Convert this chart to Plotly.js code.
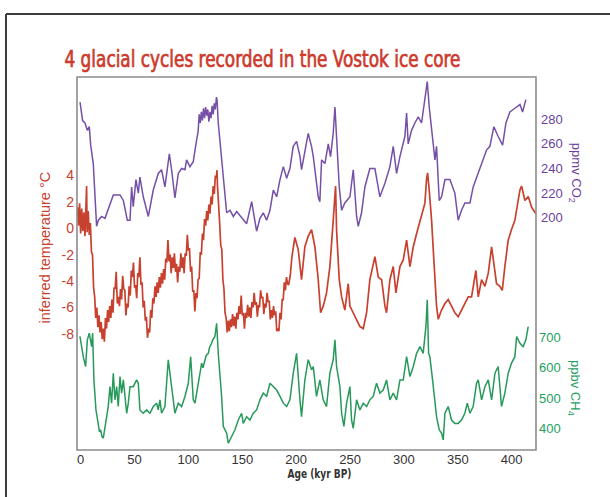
<!DOCTYPE html>
<html>
<head>
<meta charset="utf-8">
<script src="https://cdn.plot.ly/plotly-3.0.1.min.js"></script>
<style>
  html, body { margin: 0; padding: 0; background: #ffffff; }
  #chart { width: 610px; height: 497px; }
</style>
</head>
<body>
<div id="chart"></div>
<script>
// Vostok ice core: temperature, CO2 and CH4 over the last ~420 kyr

const tickAges = [0, 50, 100, 150, 200, 250, 300, 350, 400];
const tempTicks = [-8, -6, -4, -2, 0, 2, 4];
const co2Ticks = [200, 220, 240, 260, 280];
const ch4Ticks = [400, 500, 600, 700];

// Inferred temperature (deg C) vs age (kyr BP)
const tempAge = [
  -3.4, -3, -2, -1, 0, 1, 2, 3, 4, 5, 5.5, 6, 7, 8, 9, 10, 11, 12, 13, 14,
  15, 16, 17, 18, 19, 20, 21, 22, 23, 24, 25, 26, 27, 28, 29, 30, 31, 32, 33, 34,
  35, 36, 37, 38, 39, 40, 41, 42, 43, 44, 45, 46, 47, 48, 49, 50, 51, 52, 53, 54,
  55, 56, 57, 58, 59, 60, 61, 62, 63, 64, 65, 66, 67, 68, 69, 70, 71, 72, 73, 74,
  75, 76, 77, 78, 79, 80, 81, 82, 83, 84, 85, 86, 87, 88, 89, 90, 91, 92, 93, 94,
  95, 96, 97, 98, 99, 100, 101, 102, 103, 104, 105, 106, 107, 108, 109, 110, 111, 112, 113, 114,
  115, 116, 117, 118, 119, 120, 121, 122, 123, 124, 125, 126, 126.5, 127, 128, 129, 130, 131, 132, 133,
  134, 135, 136, 137, 138, 139, 140, 141, 142, 143, 144, 145, 146, 147, 148, 149, 150, 151, 152, 153,
  154, 155, 156, 157, 158, 159, 160, 161, 162, 163, 164, 165, 166, 167, 168, 169, 170, 171, 172, 173,
  174, 175, 176, 177, 178, 179, 180, 181, 182, 183, 184, 185, 186, 187, 188, 189, 190, 191, 192,
  193, 194.5, 196, 198.8, 201.9, 205.0, 208.1, 211.2, 214.3, 217.4,
  220.5, 222.7, 225.1, 226.7, 228.2, 231.3, 232.9, 234.4, 236.6, 237.5,
  240.0, 242.2, 245.2, 248.3, 249.9, 253.0, 256.1, 259.2, 262.3, 265.4,
  268.4, 273.1, 276.2, 279.3, 282.4, 283.9, 287.0, 290.1, 292.6, 296.3,
  299.4, 302.5, 305.6, 308.7, 311.8, 314.9, 317.9, 319.5, 321.0, 322.0,
  323.5, 325.7, 327.8, 330.3, 331.9, 334.9, 338.1, 341.1, 344.2, 347.3,
  350.4, 353.5, 356.6, 359.7, 362.8, 364.3, 366.8, 369.0, 372.1, 375.2,
  378.3, 381.4, 383.5, 386.0, 389.1, 391.3, 393.7, 396.8, 399.9, 403.0,
  407.7, 409.2, 412.3, 415.4, 418.5, 422.5
];
const tempC = [
  1.0, 1.6, 0.2, 1.9, -0.4, 1.5, -0.2, 1.2, -0.6, 2.0, 3.2, -0.3, 1.3, -0.5, 0.4, -1.8, -2.0, -4.5, -5.2, -6.8,
  -6.0, -7.5, -6.6, -7.9, -7.1, -8.4, -7.6, -8.6, -6.8, -7.6, -6.2, -7.1, -5.9, -6.8, -5.4, -6.4, -4.5, -4.6, -3.3, -5.7,
  -5.2, -5.9, -4.6, -5.4, -3.6, -4.6, -4.7, -6.6, -5.7, -6.0, -4.4, -5.1, -3.2, -3.7, -2.6, -4.5, -4.3, -5.3, -3.4, -3.7,
  -2.2, -4.3, -4.1, -6.0, -5.5, -7.0, -6.7, -8.3, -7.6, -7.9, -6.2, -6.8, -5.3, -5.7, -4.4, -5.2, -4.1, -4.9, -3.7, -4.5,
  -3.4, -4.2, -3.1, -3.9, -2.3, -2.6, -0.9, -2.5, -2.0, -3.4, -2.2, -3.0, -1.9, -3.3, -2.7, -4.1, -2.9, -3.3, -1.9, -3.0,
  -2.2, -3.4, -1.9, -2.1, -0.5, -1.7, -1.5, -3.3, -2.9, -4.8, -4.7, -6.3, -4.9, -5.3, -3.9, -3.8, -1.8, -2.0, -0.4, -0.9,
  0.7, 0.2, 1.3, 0.6, 1.8, 1.1, 2.4, 1.8, 3.2, 2.6, 4.0, 3.8, 4.4, 3.2, 1.2, 0.4, -1.3, -1.6, -3.9, -4.6,
  -6.4, -6.8, -7.9, -7.0, -7.8, -6.9, -7.5, -6.5, -7.4, -6.7, -7.6, -6.4, -6.9, -5.9, -6.5, -5.1, -6.6, -6.4, -7.6, -6.4,
  -6.8, -5.8, -6.7, -6.0, -6.8, -5.6, -6.0, -4.9, -5.8, -5.6, -6.7, -5.8, -6.0, -4.7, -5.3, -5.2, -6.5, -5.7, -6.0, -4.9,
  -5.6, -5.5, -6.9, -6.2, -6.8, -5.9, -6.6, -6.3, -7.8, -7.6, -7.8, -6.4, -6.9, -5.4, -5.4, -4.1, -4.7, -3.7, -4.2,
  -4.3, -3.6, -2.2, -0.7, -1.6, -3.9, -1.4, -0.6, -0.1, -1.4,
  -3.9, -6.4, -5.9, -5.4, -4.9, -2.9, -1.4, 0.6, 3.2, -0.1,
  -3.9, -5.2, -6.2, -4.2, -5.9, -6.4, -6.9, -7.45, -7.6, -6.4,
  -3.9, -2.15, -3.7, -3.9, -5.9, -6.4, -3.9, -2.9, -4.9, -2.9,
  -2.4, -0.9, -2.9, -1.4, -0.4, 0.6, 1.4, 1.9, 3.7, 4.2,
  2.9, 0.6, -2.4, -5.9, -6.9, -6.2, -5.7, -5.4, -5.9, -6.4,
  -6.7, -6.2, -5.7, -5.2, -5.2, -4.4, -3.2, -5.2, -3.9, -4.4,
  -3.4, -1.4, -2.9, -4.2, -4.4, -4.7, -2.9, -0.9, -0.1, 0.6,
  2.9, 3.2, 2.1, 2.4, 1.6, 1.1
];

// Atmospheric CO2 (ppmv) vs age (kyr BP)
const co2Age = [
  -0.6, 1.8, 4.0, 6.2, 8.0, 9.3, 11.7, 14.8, 16.4, 19.5, 22.6, 27.2, 30.3, 36.5, 39.6, 43.3, 45.8, 47.3, 48.8, 51.3,
  53.5, 55.0, 58.1, 62.8, 67.4, 72.0, 75.1, 78.2, 82.3, 84.4, 87.5, 90.6, 93.7, 96.8, 98.3, 101.4, 104.5, 107.6, 109, 110,
  111, 112, 113, 114, 115, 116, 117, 118, 119, 120, 121, 122, 123, 124, 125, 126, 126.6, 127.7, 130.8, 133.9,
  135.5, 138.6, 141.7, 144.8, 147.8, 154.0, 158.7, 161.8, 163.3, 166.4, 169.5, 172.6, 175.7, 178.8, 181.9, 185.0, 188.1, 191.2, 194.2, 197.3,
  200.4, 203.5, 205.0, 211.2, 214.3, 215.9, 220.5, 222.0, 223.6, 226.7, 229.8, 231.9, 234.4, 236.0, 237.5, 240.0, 242.2, 245.2, 249.9, 253.0,
  256.1, 257.6, 260.7, 263.8, 268.4, 273.1, 277.7, 282.4, 287.0, 290.1, 293.2, 296.3, 300.9, 302.5, 304.0, 307.1, 310.2, 313.3, 316.4, 319.5,
  321.7, 323.5, 326.6, 328.8, 330.3, 331.9, 332.8, 335.0, 338.1, 342.7, 347.3, 350.4, 353.5, 356.6, 361.3, 364.3, 369.0, 372.1, 376.7, 379.8,
  383.5, 387.5, 391.6, 394.7, 398.4, 403.0, 407.7, 410.1, 413.2
];
const co2Ppmv = [
  294, 279, 277, 271, 274, 259, 244, 193, 198, 201, 199.5, 212, 218.5, 218.5, 214, 198, 198, 225, 209, 231,
  220, 233, 217, 201, 222.5, 236, 239, 225, 252, 239, 216, 236, 240, 239, 247, 241.5, 245.5, 263, 270, 284,
  277, 286, 279, 289, 281, 290, 283, 288, 278, 286, 281, 291, 284, 293, 288, 298, 296, 277, 250, 222.5,
  204, 206, 201, 205, 202, 195, 213, 198, 189, 199.5, 204, 198, 206, 222.5, 217, 231, 241.5, 232, 240, 258,
  262, 250, 239, 268.6, 257.8, 249.6, 217, 213, 247, 244, 260, 249.6, 268.6, 290, 268.6, 225, 206, 212, 217, 239,
  201, 193, 204, 225, 240, 240, 217, 228, 241.5, 258, 236, 249.6, 266, 285, 260, 271, 277, 282, 277, 296,
  310.6, 290, 263, 247, 258, 233, 214, 217, 231, 231, 220, 198, 206, 212, 212, 225, 236, 244, 255, 258,
  274, 266, 259, 277, 286, 289, 292, 286, 296
];

// Atmospheric CH4 (ppbv) vs age (kyr BP)
const ch4Age = [
  -0.65, 2.4, 4.6, 6.2, 8.0, 10.2, 11.1, 12.3, 14.2, 16.4, 17.5, 18.5, 19.8, 21.0, 22.6, 24.1, 25.6, 27.2, 28.7, 30.3,
  31.8, 33.4, 34.9, 36.5, 38.0, 39.6, 41.1, 42.7, 44.2, 45.8, 48.8, 51.9, 53.5, 55.0, 58.1, 61.2, 64.3, 67.4, 70.5, 72.0,
  73.6, 75.1, 78.2, 81.3, 84.4, 87.5, 90.6, 93.7, 96.8, 99.9, 102.1, 104.5, 106.1, 107.6, 109.2, 110.5, 112.3, 113.5, 115.4, 116.5,
  118.5, 119.5, 121.5, 122.5, 124.6, 125.5, 126.2, 127.7, 129.3, 130.8, 132.4, 135.5, 137.0, 140.1, 143.2, 146.3, 149.4, 150.9, 154.0, 157.1,
  160.2, 163.3, 166.4, 169.5, 172.6, 175.7, 178.8, 181.9, 185.0, 188.1, 191.2, 194.2, 197.3, 200.4, 203.5, 205.0, 208.1, 211.2, 214.3, 215.9,
  218.9, 222.0, 225.1, 228.2, 231.3, 234.4, 236.0, 237.5, 240.6, 242.2, 244.3, 246.8, 249.9, 251.4, 253.0, 256.1, 259.2, 262.3, 265.4, 268.4,
  271.5, 274.6, 277.7, 280.8, 283.9, 287.0, 290.1, 293.2, 296.3, 299.4, 302.5, 305.6, 308.7, 311.8, 314.9, 317.9, 320.4, 321.7, 322.9, 324.1,
  326.6, 328.8, 330.3, 332.8, 334.9, 336.5, 338.1, 341.1, 344.2, 347.3, 350.4, 353.5, 356.6, 358.8, 361.3, 364.3, 367.4, 369.0, 372.1, 375.2,
  378.3, 381.4, 384.5, 387.5, 390.6, 393.7, 396.8, 399.9, 403.0, 404.6, 407.7, 410.7, 413.2, 415.4
];
const ch4Ppbv = [
  702, 636, 604, 691, 713, 669, 713, 560, 462, 418, 390, 397, 375, 370, 408, 451, 473, 538, 484, 582,
  495, 538, 473, 571, 517, 560, 495, 451, 484, 538, 538, 560, 549, 462, 451, 462, 451, 473, 484, 462,
  495, 451, 473, 626, 538, 451, 484, 473, 506, 549, 636, 495, 484, 517, 560, 585, 615, 600, 626, 640,
  647, 665, 680, 690, 702, 720, 745, 647, 582, 506, 408, 386, 353, 375, 397, 429, 451, 418, 440, 429,
  451, 462, 495, 517, 506, 549, 538, 527, 506, 484, 473, 495, 582, 647, 495, 440, 560, 626, 593, 604,
  506, 560, 495, 473, 582, 626, 691, 604, 538, 451, 408, 484, 538, 429, 402, 495, 462, 484, 473, 495,
  506, 549, 517, 527, 560, 495, 517, 495, 560, 560, 636, 571, 604, 647, 669, 647, 734, 822, 647, 636,
  560, 495, 440, 397, 386, 364, 451, 473, 429, 418, 418, 429, 451, 484, 451, 473, 549, 560, 495, 538,
  560, 495, 582, 604, 473, 517, 582, 615, 636, 702, 680, 669, 691, 734
];

const RED = '#c8412f';
const TITLE_RED = '#cc3a2c';
const PURPLE = '#7550a6';
const GREEN = '#27995a';
const LABEL_FONT = 'Liberation Sans, Arial, sans-serif';
const NARROW_FONT = 'DejaVu Sans Condensed, Liberation Sans Narrow, Liberation Sans, sans-serif';

const traces = [
  { x: co2Age, y: co2Ppmv, yaxis: 'y2', type: 'scatter', mode: 'lines',
    line: { color: PURPLE, width: 1.5 } },
  { x: tempAge, y: tempC, yaxis: 'y', type: 'scatter', mode: 'lines',
    line: { color: RED, width: 1.7 } },
  { x: ch4Age, y: ch4Ppbv, yaxis: 'y3', type: 'scatter', mode: 'lines',
    line: { color: GREEN, width: 1.5 } }
];

const layout = {
  width: 610,
  height: 497,
  margin: { l: 77, r: 74, t: 77, b: 47, pad: 0 },
  paper_bgcolor: '#ffffff',
  plot_bgcolor: '#ffffff',
  showlegend: false,
  hovermode: false,
  xaxis: {
    range: [-3.4, 422.6],
    tickvals: tickAges,
    ticktext: tickAges.map(String),
    ticks: '',
    showgrid: false,
    zeroline: false,
    showline: false,
    tickfont: { family: LABEL_FONT, size: 13, color: '#333333' }
  },
  yaxis: {
    range: [-16.8, 11.46],
    tickvals: tempTicks,
    ticktext: tempTicks.map(String),
    ticks: '',
    showgrid: false,
    zeroline: false,
    showline: false,
    ticklabelstandoff: 2,
    tickfont: { family: LABEL_FONT, size: 14, color: RED }
  },
  yaxis2: {
    overlaying: 'y',
    side: 'right',
    anchor: 'x',
    range: [11.1, 314.4],
    tickvals: co2Ticks,
    ticktext: co2Ticks.map(String),
    ticks: '',
    showgrid: false,
    zeroline: false,
    showline: false,
    ticklabelstandoff: 4,
    tickfont: { family: LABEL_FONT, size: 13, color: '#6a3f9c' }
  },
  yaxis3: {
    overlaying: 'y',
    side: 'right',
    anchor: 'x',
    range: [331, 1550],
    tickvals: ch4Ticks,
    ticktext: ch4Ticks.map(String),
    ticks: '',
    showgrid: false,
    zeroline: false,
    showline: false,
    ticklabelstandoff: 2,
    tickfont: { family: LABEL_FONT, size: 13, color: '#23a05e' }
  },
  shapes: [
    // plot frame
    { type: 'rect', xref: 'paper', yref: 'paper', x0: 0, x1: 1, y0: 0, y1: 1,
      line: { color: '#8c8c8c', width: 1.6 }, fillcolor: 'rgba(0,0,0,0)' },
    // outer panel border (top and left edges)
    { type: 'line', xref: 'paper', yref: 'paper', x0: -0.1547, x1: 1.2, y0: 1.1689, y1: 1.1689,
      line: { color: '#3c3c3c', width: 2 } },
    { type: 'line', xref: 'paper', yref: 'paper', x0: -0.1547, x1: -0.1547, y0: 1.1689, y1: -0.2,
      line: { color: '#3c3c3c', width: 2 } }
  ],
  annotations: [
    { text: '4 glacial cycles recorded in the Vostok ice core',
      xref: 'paper', yref: 'paper', x: 0.405, y: 1.048, xanchor: 'center', yanchor: 'middle',
      showarrow: false, font: { family: NARROW_FONT, size: 23, color: TITLE_RED, stretch: 'condensed' } },
    { text: 'inferred temperature °C',
      xref: 'paper', yref: 'paper', x: -0.0697, y: 0.543, xanchor: 'center', yanchor: 'middle',
      textangle: -90, showarrow: false, font: { family: LABEL_FONT, size: 14.5, color: RED } },
    { text: 'ppmv CO<sub>2</sub>',
      xref: 'paper', yref: 'paper', x: 1.085, y: 0.743, xanchor: 'center', yanchor: 'middle',
      textangle: 90, showarrow: false, font: { family: LABEL_FONT, size: 13, color: '#6a3f9c' } },
    { text: 'ppbv CH<sub>4</sub>',
      xref: 'paper', yref: 'paper', x: 1.085, y: 0.166, xanchor: 'center', yanchor: 'middle',
      textangle: 90, showarrow: false, font: { family: LABEL_FONT, size: 13, color: '#23a05e' } },
    { text: '<b>Age (kyr BP)</b>',
      xref: 'paper', yref: 'paper', x: 0.529, y: -0.0617, xanchor: 'center', yanchor: 'middle',
      showarrow: false, font: { family: NARROW_FONT, size: 13, color: '#333333', stretch: 'condensed' } }
  ]
};

// Condensed headline and axis caption: squeeze the glyphs to the set widths;
// the headline also gets a thin outline of its own colour for a heavier face
const fitWidths = { 0: 396, 4: 64 };

Plotly.newPlot('chart', traces, layout, { staticPlot: true, displayModeBar: false }).then(function (gd) {
  const notes = gd.querySelectorAll('g.annotation');
  Object.keys(fitWidths).forEach(function (i) {
    const g = notes[Number(i)];
    if (!g) return;
    const t = g.querySelector('text.annotation-text');
    if (!t) return;
    t.setAttribute('textLength', String(fitWidths[i]));
    t.setAttribute('lengthAdjust', 'spacingAndGlyphs');
    if (Number(i) === 0) {
      t.style.stroke = TITLE_RED;
      t.style.strokeWidth = '0.7px';
    }
  });
});
</script>
</body>
</html>
